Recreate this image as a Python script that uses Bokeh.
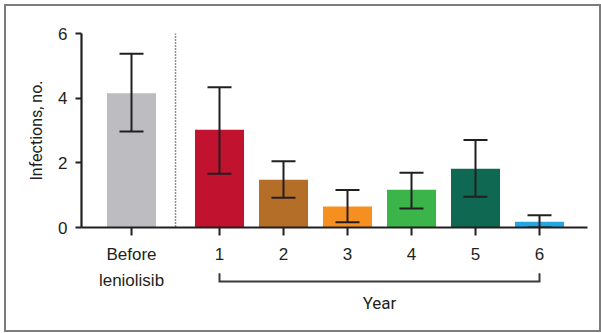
from bokeh.plotting import figure
from bokeh.layouts import column
from bokeh.models import (Range1d, FixedTicker, ColumnDataSource, Whisker, TeeHead, Span)
from bokeh.core.properties import value
from bokeh.embed import file_html
from bokeh.resources import INLINE

# ---- data ----
categories = ["Before leniolisib", "1", "2", "3", "4", "5", "6"]
means = [4.15, 3.02, 1.48, 0.65, 1.17, 1.82, 0.18]
upper = [5.37, 4.34, 2.05, 1.16, 1.69, 2.71, 0.38]
lower = [2.97, 1.66, 0.92, 0.16, 0.59, 0.95, 0.0]
colors = ["#BDBDC1", "#C1132F", "#B56E28", "#F58F20", "#3BB54A", "#0E6852", "#24A7E0"]
y_ticks = [0, 2, 4, 6]
y_label = "Infections, no."
bracket_label = "Year"

# ---- layout positions (x units) ----
positions = [-0.375, 1, 2, 3, 4, 5, 6]
divider_x = 0.3125

INK = "#231F20"
COND = "Roboto"
SANS = "Liberation Sans"
W = 593

first_lines = [c.split(" ", 1)[0] for c in categories]
second_lines = [c.split(" ", 1)[1] if " " in c else "" for c in categories]

src = ColumnDataSource(dict(x=positions, top=means, upper=upper, lower=lower, color=colors))
xr = Range1d(-1.15625, 6.75)

# ---------- main plot ----------
p = figure(width=W, height=260, output_backend="svg", toolbar_location=None,
           x_range=xr, y_range=Range1d(0, 6),
           min_border_left=75, min_border_right=12, min_border_top=27, min_border_bottom=38)
p.outline_line_color = None
p.grid.visible = False

p.vbar(x="x", top="top", bottom=0, width=0.766, fill_color="color", line_color=None, source=src)

p.add_layout(Whisker(source=src, base="x", upper="upper", lower="lower", level="overlay",
                     line_color=INK, line_width=2,
                     upper_head=TeeHead(size=24, line_color=INK, line_width=2),
                     lower_head=TeeHead(size=24, line_color=INK, line_width=2)))

p.add_layout(Span(location=divider_x, dimension="height", line_color=INK,
                  line_width=1.5, line_dash="1 2"))

p.xaxis.ticker = FixedTicker(ticks=positions)
p.xaxis.major_label_overrides = {pos: lab for pos, lab in zip(positions, first_lines)}
p.yaxis.ticker = FixedTicker(ticks=y_ticks)
for ax in (p.xaxis, p.yaxis):
    ax.axis_line_color = INK
    ax.axis_line_width = 2.2
    ax.major_tick_line_color = INK
    ax.major_tick_line_width = 2
    ax.major_tick_in = 0
    ax.minor_tick_line_color = None
    ax.major_label_text_font = SANS
    ax.major_label_text_font_size = "17px"
    ax.major_label_text_color = INK
p.xaxis.major_tick_out = 8
p.yaxis.major_tick_out = 6
p.xaxis.major_label_standoff = 9
p.yaxis.major_label_standoff = 8
p.yaxis.axis_label = y_label
p.yaxis.axis_label_text_font = COND
p.yaxis.axis_label_text_font_style = "normal"
p.yaxis.axis_label_text_font_size = "16px"
p.yaxis.axis_label_text_color = INK
p.yaxis.axis_label_standoff = 9

# ---------- strip below: second label lines, year bracket ----------
q = figure(width=W, height=64, output_backend="svg", toolbar_location=None,
           x_range=xr, y_range=Range1d(64, 0),
           x_axis_location=None, y_axis_location=None,
           min_border_left=75, min_border_right=12, min_border_top=0, min_border_bottom=0)
q.outline_line_color = None
q.grid.visible = False

sub = [(x, t) for x, t in zip(positions, second_lines) if t]
q.text(x=[s[0] for s in sub], y=[14] * len(sub), text=[s[1] for s in sub],
       text_align="center", text_baseline="middle", text_font=value(SANS),
       text_font_size="17px", text_color=INK)

years = positions[1:]
q.line(x=[min(years), min(years), max(years), max(years)], y=[6.7, 15, 15, 6.7],
       line_color="#3a3a3a", line_width=2, line_join="miter")
q.text(x=[sum(years) / len(years)], y=[36], text=[bracket_label],
       text_align="center", text_baseline="middle", text_font=value(COND),
       text_font_size="17px", text_color=INK)

layout = column(p, q, styles={"border": "2px solid #7c7c7c", "margin": "4px 0 0 4px"})

open("out.html", "w").write(file_html(layout, INLINE))
